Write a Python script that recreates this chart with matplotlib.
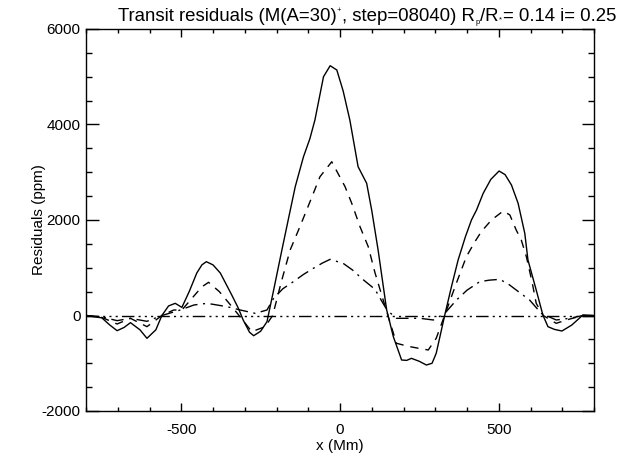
import matplotlib
matplotlib.use("Agg")
import matplotlib.pyplot as plt
from matplotlib.ticker import MultipleLocator

plt.rcParams['font.family'] = ['Liberation Sans', 'DejaVu Sans']
plt.rcParams['axes.unicode_minus'] = False

# Solid curve
x_solid = [-800, -750, -725, -702, -680, -660, -630, -608, -580, -561, -540, -519, -498, -475,
           -451, -435, -421, -400, -377, -341, -320, -305, -285, -272, -250, -230, -210, -183,
           -160, -141, -115, -95, -79, -52, -31, -10, 10, 31, 57, 84, 100, 120,
           147, 168, 194, 210, 225, 250, 272, 290, 303, 330, 351, 372, 395, 414, 430, 451,
           475, 501, 520, 540, 561, 582, 592, 618, 639, 655, 675, 699, 730, 765, 800]
y_solid = [0, -50, -200, -318, -250, -150, -300, -478, -300, 0, 200, 255, 170, 500,
           890, 1060, 1127, 1060, 890, 430, 150, -94, -350, -423, -330, -130, 500, 1372,
           2100, 2697, 3325, 3700, 4094, 5000, 5231, 5141, 4700, 4094, 3116, 2768, 2200, 1372,
           115, -443, -932, -940, -897, -960, -1037, -1000, -792, 10, 603, 1162, 1650, 2000, 2209, 2559,
           2850, 3026, 2950, 2733, 2349, 1721, 1162, 534, 10, -234, -290, -325, -200, 10, 0]

# Dashed curve
x_dash = [-800, -750, -702, -660, -608, -561, -524, -498, -462, -435, -414, -380, -336, -300,
          -278, -236, -212, -185, -157, -130, -105, -63, -26, 16, 37, 63, 89, 110, 136, 152,
          178, 200, 220, 250, 278, 303, 330, 365, 398, 425, 445, 477, 514, 535, 555, 571, 587,
          605, 618, 640, 681, 713, 765, 800]
y_dash = [0, -40, -178, -59, -234, 0, 115, 115, 394, 600, 695, 500, 150, -150,
          -339, -234, 0, 700, 1372, 1800, 2209, 2907, 3220, 2697, 2349, 1860, 1441, 900, 325, -24,
          -582, -620, -652, -690, -722, -478, 10, 650, 1232, 1546, 1755, 2000, 2188, 2105, 1790, 1581, 1232,
          700, 255, 0, -164, -94, 0, 0]

# Dash-dot curve
x_dd = [-800, -750, -702, -660, -608, -561, -503, -460, -419, -356, -314, -267, -230, -209,
        -180, -147, -115, -84, -55, -31, 10, 40, 73, 110, 136, 150, 178, 252, 294, 330, 367,
        400, 440, 470, 503, 530, 555, 597, 634, 681, 723, 765, 800]
y_dd = [0, -30, -108, -59, -122, 0, 115, 220, 255, 185, 115, 45, 115, 360,
        560, 708, 860, 988, 1100, 1176, 1092, 950, 750, 550, 250, 100, -59, -59, -94, 45, 325,
        530, 708, 740, 757, 660, 534, 325, 45, -94, -59, 0, 0]

# Dash-dot-dot-dot reference line
x_ref = [-800, 800]
y_ref = [0, 0]

title_parts = [("Transit residuals (M(A=30)", 'n'), ("+", 'sup'), (", step=08040) R", 'n'),
               ("p", 'sub'), ("/R", 'n'), ("*", 'sub2'), ("= 0.14 i= 0.25", 'n')]

W, H = 639, 457
fig = plt.figure(figsize=(W / 100, H / 100), dpi=100)
ax = fig.add_axes([86 / W, 1 - 411 / H, (594 - 86) / W, (411 - 29) / H])

ax.plot(x_solid, y_solid, color='black', lw=1.0, ls='-')
ax.plot(x_dash, y_dash, color='black', lw=1.0, ls=(0, (6, 5)))
ax.plot(x_dd, y_dd, color='black', lw=1.0, ls=(0, (9, 4, 1.5, 4)))
ax.plot(x_ref, y_ref, color='black', lw=1.0, ls=(0, (9, 3, 1.5, 3, 1.5, 3, 1.5, 3)))

ax.set_xlim(-800, 800)
ax.set_ylim(-2000, 6000)
ax.xaxis.set_major_locator(MultipleLocator(500))
ax.xaxis.set_minor_locator(MultipleLocator(100))
ax.yaxis.set_major_locator(MultipleLocator(2000))
ax.yaxis.set_minor_locator(MultipleLocator(500))
ax.tick_params(which='both', direction='in', top=True, right=True, labelsize=11, width=1)
ax.tick_params(axis='x', which='major', length=6, pad=9)
ax.tick_params(axis='x', which='minor', length=3)
ax.tick_params(axis='y', which='major', length=9, pad=4)
ax.tick_params(axis='y', which='minor', length=4)
for s in ax.spines.values():
    s.set_linewidth(1.0)

ax.set_xlabel('x (Mm)', fontsize=11, labelpad=1)
ax.set_ylabel('Residuals (ppm)', fontsize=11, labelpad=-3)

# Title assembled from pieces (tiny super/subscripts as in the reference)
renderer = fig.canvas.get_renderer()
xpos = 118 / W
base = 1 - 21 / H
for txt, kind in title_parts:
    if kind == 'n':
        fs, dy = 13.4, 0
    elif kind == 'sup':
        fs, dy = 5.5, 9
    elif kind == 'sub':
        fs, dy = 5.5, -3
    else:
        fs, dy = 5.5, 0
    t = fig.text(xpos, base + dy / H, txt, fontsize=fs, ha='left', va='baseline')
    bb = t.get_window_extent(renderer)
    xpos += bb.width / W + (1 / W if kind != 'n' else 0)

fig.savefig('out.png', dpi=100)
